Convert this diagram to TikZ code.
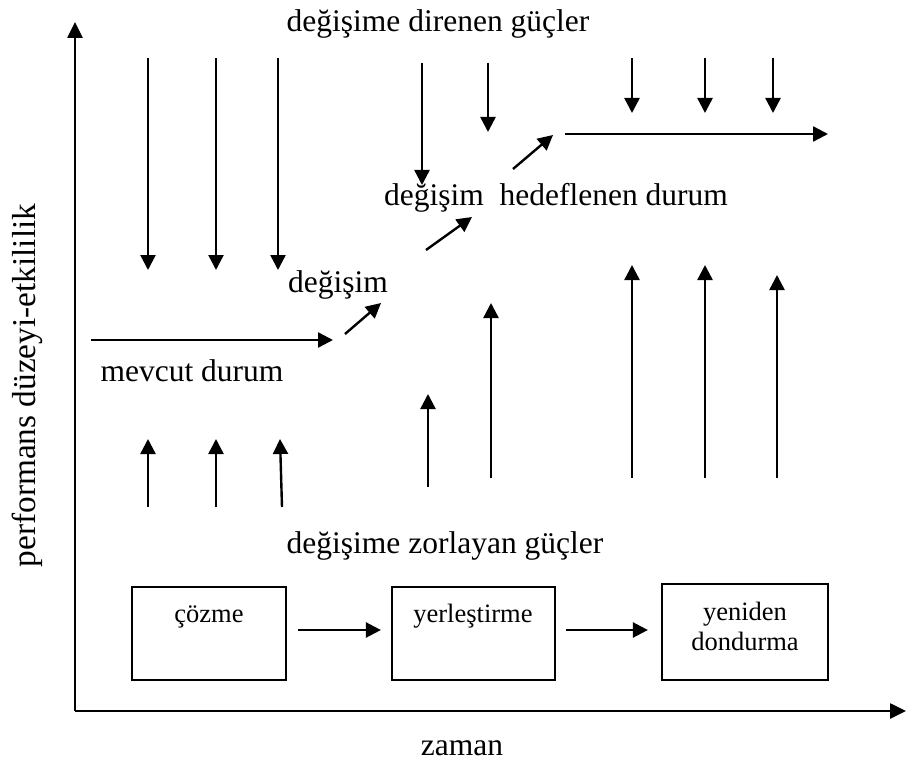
\documentclass[tikz,border=0pt]{standalone}
\usepackage{fontspec}
\setmainfont{Liberation Serif}
\usetikzlibrary{arrows.meta}
\begin{document}
\begin{tikzpicture}[x=1pt,y=-1pt,
  arr/.style={line width=2.4pt,-{Triangle[length=15pt,width=15pt]}},
  axis/.style={line width=2.6pt,-{Triangle[length=16pt,width=15pt]}},
  big/.style={font=\fontsize{31.5}{36}\selectfont,inner sep=0pt},
  small/.style={font=\fontsize{26.5}{30}\selectfont,inner sep=0pt,align=center},
  stagebox/.style={draw,line width=2.2pt,inner sep=0pt}]
\useasboundingbox (0,0) rectangle (907,762);
% axes
\coordinate (O) at (75,711);
\coordinate (Ytop) at (75,22);
\coordinate (Xend) at (906,711);
\draw[axis] (O) -- (Ytop);
\draw[axis] (O) -- (Xend);
% labels
\node[big,anchor=base] (t1) at (438,32) {değişime direnen güçler};
\node[big,anchor=base] (t2) at (338,292) {değişim};
\node[big,anchor=base] (t3) at (556,205) {değişim\ \ hedeflenen durum};
\node[big,anchor=base] (t4) at (192,381) {mevcut durum};
\node[big,anchor=base] (t5) at (445,553) {değişime zorlayan güçler};
\node[big,anchor=base] (t6) at (462,755) {zaman};
\node[inner sep=0pt,font=\fontsize{33.3}{38}\selectfont,anchor=base,rotate=90] (t7) at (35,385.5) {performans düzeyi-etkililik};
% resisting forces (down)
\foreach \x in {148,216,278} \draw[arr] (\x,58) -- (\x,270);
\draw[arr] (422,63) -- (422,185);
\draw[arr] (488,63) -- (488,132);
\foreach \x in {632,705,773} \draw[arr] (\x,58) -- (\x,113);
% driving forces (up)
\draw[arr] (148,507) -- (148,439);
\draw[arr] (216,507) -- (216,439);
\draw[arr] (282,507) -- (280,439);
\draw[arr] (428,487) -- (428,394);
\draw[arr] (491,478) -- (491,303);
\draw[arr] (632,478) -- (632,265);
\draw[arr] (705,478) -- (705,265);
\draw[arr] (777,478) -- (777,275);
% state path
\draw[arr] (91,340) -- (333,340);
\draw[arr] (345,334) -- (381,303);
\draw[arr] (426,250) -- (472,217);
\draw[arr] (513,169) -- (553,135);
\draw[arr] (565,134) -- (828,134);
% stages
\node[stagebox,minimum width=154pt,minimum height=93pt] (b1) at (209,633.5) {};
\node[stagebox,minimum width=163pt,minimum height=93pt] (b2) at (473.5,633.5) {};
\node[stagebox,minimum width=166pt,minimum height=96pt] (b3) at (745,632) {};
\node[small,anchor=base] (s1) at (209,622) {çözme};
\node[small,anchor=base] (s2) at (473,622) {yerleştirme};
\node[small,anchor=base] (s3) at (745,620) {yeniden};
\node[small,anchor=base] (s3b) at (745,650) {dondurma};
\draw[arr] ([xshift=11pt,yshift=3.5pt]b1.east) -- ([xshift=-10pt,yshift=3.5pt]b2.west);
\draw[arr] ([xshift=10pt,yshift=3.5pt]b2.east) -- ([xshift=-13pt,yshift=2pt]b3.west);
\end{tikzpicture}
\end{document}
